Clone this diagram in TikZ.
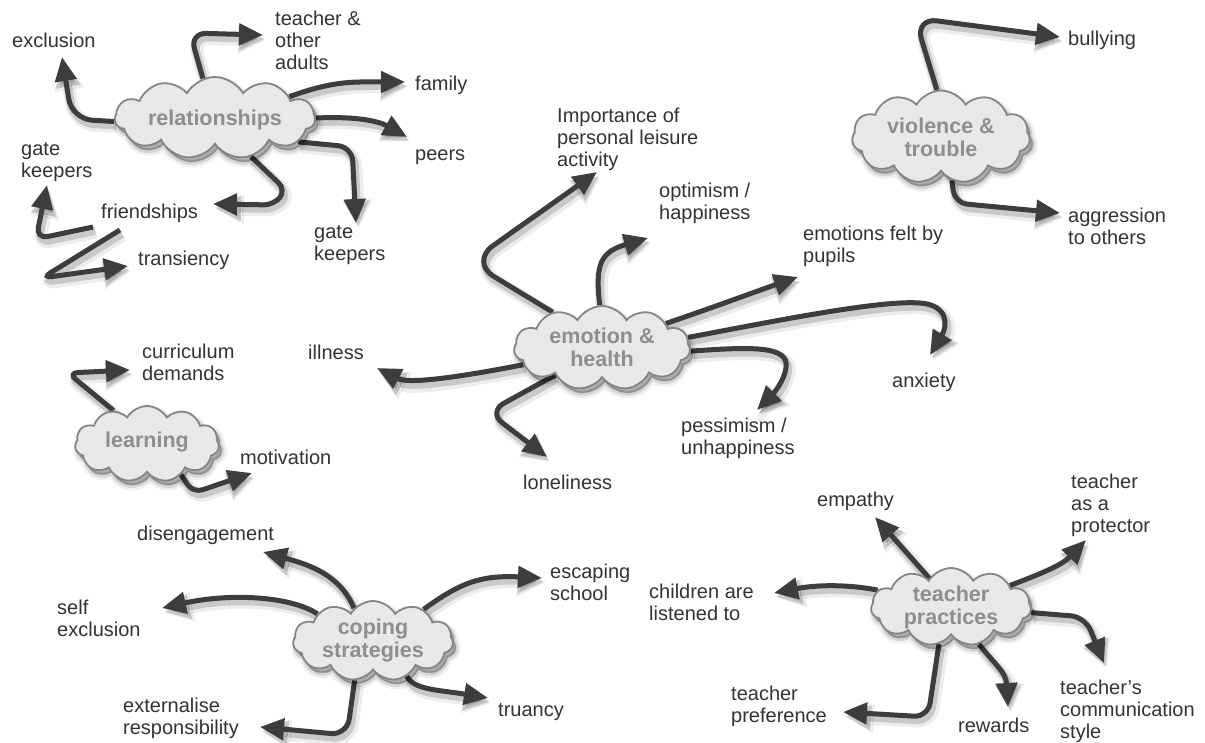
\documentclass[tikz,border=0pt]{standalone}
\usepackage{fontspec}
\setmainfont{Liberation Sans}
\usetikzlibrary{shapes.symbols,arrows.meta}
\definecolor{ink}{HTML}{333333}
\definecolor{arrowc}{HTML}{3D3D3D}
\definecolor{cloudfill}{HTML}{E8E8E8}
\definecolor{cloudline}{HTML}{858585}
\definecolor{cloudtext}{HTML}{8E8E8E}
\pgfdeclarelayer{paper}
\pgfdeclarelayer{bg}
\pgfsetlayers{paper,bg,main}
\begin{document}
\begin{tikzpicture}[x=1pt,y=-1pt,
  topic/.style={cloud, cloud puffs=11, cloud puff arc=120, cloud ignores aspect,
    draw=cloudline, line width=1.8pt, fill=cloudfill, inner sep=0pt,
    preaction={fill=black, draw=black, opacity=0.06, line width=10pt,
      transform canvas={shift={(3pt,-5pt)}}},
    preaction={fill=black, draw=black, opacity=0.10, line width=5pt,
      transform canvas={shift={(3pt,-5pt)}}},
    preaction={fill=black, draw=black, opacity=0.14, line width=1pt,
      transform canvas={shift={(3pt,-4pt)}}}},
  topictext/.style={font=\bfseries\fontsize{21.5}{23}\selectfont, text=cloudtext, align=center, inner sep=0pt},
  lbl/.style={font=\fontsize{20}{22}\selectfont, text=ink, align=left, inner sep=0pt, anchor=west},
  arr/.style={draw=arrowc, line width=5pt, -{Triangle[length=24pt,width=21pt]},
    preaction={draw=black, opacity=0.07, line width=13pt, -{Triangle[length=28pt,width=28pt]},
      transform canvas={shift={(3pt,-5pt)}}},
    preaction={draw=black, opacity=0.15, line width=8pt, -{Triangle[length=26pt,width=24pt]},
      transform canvas={shift={(2pt,-4pt)}}}}
]
\begin{pgfonlayer}{paper}
\fill[white] (0,0) rectangle (1205,743);
\end{pgfonlayer}
\useasboundingbox (0,0) rectangle (1205,743);

% topic clouds
\node[topic, minimum width=200pt, minimum height=82pt] (rel) at (215,118) {};
\node[topictext] (rel-t) at (215,120) {relationships};
\node[topic, minimum width=178pt, minimum height=93pt] (vio) at (941,137) {};
\node[topictext] (vio-t) at (941,137) {violence \&\\trouble};
\node[topic, minimum width=176pt, minimum height=84pt] (emo) at (602,348) {};
\node[topictext] (emo-t) at (602,347) {emotion \&\\health};
\node[topic, minimum width=144pt, minimum height=76pt] (lrn) at (147,444) {};
\node[topictext] (lrn-t) at (147,442) {learning};
\node[topic, minimum width=160pt, minimum height=80pt] (cop) at (373,641) {};
\node[topictext] (cop-t) at (373,640) {coping\\strategies};
\node[topic, minimum width=160pt, minimum height=78pt] (tea) at (951,607) {};
\node[topictext] (tea-t) at (951,607) {teacher\\practices};

% labels
\node[lbl] (l-excl) at (12,40) {exclusion};
\node[lbl] (l-teach) at (275,40) {teacher \&\\other\\adults};
\node[lbl] (l-fam) at (415,85) {family};
\node[lbl] (l-peers) at (415,157) {peers};
\node[lbl] (l-gk1) at (21,162) {gate\\keepers};
\node[lbl] (l-friend) at (101,213) {friendships};
\node[lbl] (l-trans) at (138,260) {transiency};
\node[lbl] (l-gk2) at (314,245) {gate\\keepers};
\node[lbl] (l-leis) at (557,139) {Importance of\\personal leisure\\activity};
\node[lbl] (l-opt) at (659,203) {optimism /\\happiness};
\node[lbl] (l-felt) at (803,246) {emotions felt by\\pupils};
\node[lbl] (l-bully) at (1068,40) {bullying};
\node[lbl] (l-aggr) at (1068,226) {aggression\\to others};
\node[lbl] (l-ill) at (308,352) {illness};
\node[lbl] (l-anx) at (892,382) {anxiety};
\node[lbl] (l-pess) at (681,438) {pessimism /\\unhappiness};
\node[lbl] (l-curr) at (142,362) {curriculum\\demands};
\node[lbl] (l-motiv) at (240,457) {motivation};
\node[lbl] (l-lone) at (523,482) {loneliness};
\node[lbl] (l-dis) at (137,535) {disengagement};
\node[lbl] (l-self) at (57,618) {self\\exclusion};
\node[lbl] (l-esc) at (550,582) {escaping\\school};
\node[lbl] (l-tru) at (498,712) {truancy};
\node[lbl] (l-ext) at (123,718) {externalise\\responsibility};
\node[lbl] (l-emp) at (817,501) {empathy};
\node[lbl] (l-prot) at (1071,505) {teacher\\as a\\protector};
\node[lbl] (l-child) at (649,602) {children are\\listened to};
\node[lbl] (l-pref) at (731,706) {teacher\\preference};
\node[lbl] (l-rew) at (958,725) {rewards};
\node[lbl] (l-comm) at (1060,711) {teacher's\\communication\\style};

% arrow tips and free ends
\coordinate (t-excl) at (62,57);
\coordinate (t-teach) at (263,35);
\coordinate (t-fam) at (405,82);
\coordinate (t-peers) at (407,137);
\coordinate (t-gk2) at (356,223);
\coordinate (t-friend) at (213,204);
\coordinate (f-a) at (93,227);
\coordinate (t-gk1) at (47,185);
\coordinate (f-b) at (120,230);
\coordinate (t-trans) at (128,266);
\coordinate (t-bully) at (1060,37);
\coordinate (t-aggr) at (1060,213);
\coordinate (t-leis) at (597,172);
\coordinate (t-opt) at (648,238);
\coordinate (t-felt) at (798,277);
\coordinate (t-anx) at (930,355);
\coordinate (t-pess) at (757,410);
\coordinate (t-ill) at (377,368);
\coordinate (t-lone) at (547,457);
\coordinate (t-curr) at (130,370);
\coordinate (t-motiv) at (252,473);
\coordinate (t-dis) at (263,552);
\coordinate (t-self) at (162,608);
\coordinate (t-esc) at (542,578);
\coordinate (t-tru) at (488,698);
\coordinate (t-ext) at (260,727);
\coordinate (t-emp) at (875,517);
\coordinate (t-prot) at (1086,540);
\coordinate (t-child) at (774,593);
\coordinate (t-comm) at (1104,663);
\coordinate (t-rew) at (1008,707);
\coordinate (t-pref) at (843,712);

\begin{pgfonlayer}{bg}
% relationships
\draw[arr, rounded corners=20pt] (rel.182) -- (72,119) -- (t-excl);
\draw[arr, rounded corners=16pt] (rel.107) -- (190,33) -- (t-teach);
\draw[arr] (rel.16) .. controls (335,80) and (355,82) .. (t-fam);
\draw[arr] (rel.0) .. controls (360,116) and (380,122) .. (t-peers);
\draw[arr, rounded corners=14pt] (rel.-16) -- (352,147) -- (t-gk2);
\draw[arr, rounded corners=10pt] (rel.-47) -- (286,190) -- (274,205) -- (t-friend);
\draw[arr, rounded corners=12pt] (f-a) -- (36,239) -- (t-gk1);
\draw[arr, rounded corners=10pt] (f-b) -- (42,278) -- (t-trans);
% violence & trouble
\draw[arr, rounded corners=22pt] (vio.95) -- (915,18) -- (t-bully);
\draw[arr, rounded corners=12pt] (vio.-76) -- (955,203) -- (t-aggr);
% emotion & health
\draw[arr, rounded corners=28pt] (emo.144) -- (470,262) -- (t-leis);
\draw[arr] (emo.93) .. controls (595,265) and (600,252) .. (t-opt);
\draw[arr] (emo.21) .. controls (720,305) and (760,290) .. (t-felt);
\draw[arr] (emo.7) .. controls (780,320) and (880,300) .. (920,303)
  .. controls (948,305) and (948,325) .. (t-anx);
\draw[arr] (emo.-2) .. controls (750,347) and (790,345) .. (786,368)
  .. controls (784,382) and (772,395) .. (t-pess);
\draw[arr] (emo.192) .. controls (470,375) and (410,385) .. (t-ill);
\draw[arr, rounded corners=18pt] (emo.210) -- (488,412) -- (t-lone);
% learning
\draw[arr, rounded corners=10pt] (lrn.135) -- (68,373) -- (t-curr);
\draw[arr, rounded corners=10pt] (lrn.-42) -- (193,493) -- (t-motiv);
% coping strategies
\draw[arr] (cop.120) .. controls (340,575) and (310,565) .. (t-dis);
\draw[arr] (cop.154) .. controls (290,596) and (230,593) .. (t-self);
\draw[arr] (cop.32) .. controls (460,583) and (480,575) .. (t-esc);
\draw[arr] (cop.-46) .. controls (413,690) and (440,690) .. (t-tru);
\draw[arr, rounded corners=16pt] (cop.-115) -- (347,735) -- (t-ext);
% teacher practices
\draw[arr] (tea.127) -- (t-emp);
\draw[arr] (tea.20) .. controls (1045,572) and (1062,565) .. (t-prot);
\draw[arr] (tea.167) .. controls (840,583) and (810,586) .. (t-child);
\draw[arr, rounded corners=14pt] (tea.-4) -- (1085,617) -- (t-comm);
\draw[arr] (tea.-53) .. controls (995,665) and (1006,672) .. (t-rew);
\draw[arr, rounded corners=14pt] (tea.-108) -- (928,717) -- (t-pref);
\end{pgfonlayer}
\end{tikzpicture}
\end{document}
